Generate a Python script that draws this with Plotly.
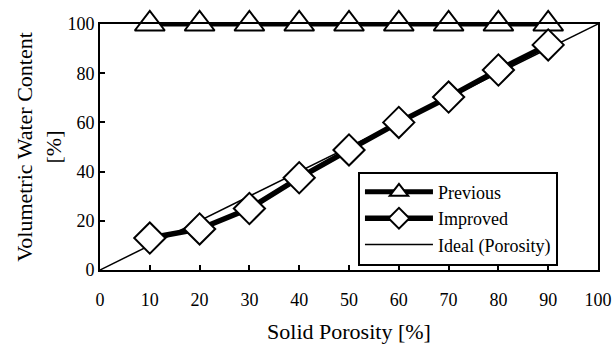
import plotly.graph_objects as go

porosity = [10, 20, 30, 40, 50, 60, 70, 80, 90]
previous = [100, 100, 100, 100, 100, 100, 100, 100, 100]
improved = [13, 16.7, 25, 37.5, 48.8, 60, 70.3, 81.3, 91.5]
ideal_x = [0, 100]
ideal_y = [0, 100]
ticks = [0, 10, 20, 30, 40, 50, 60, 70, 80, 90, 100]
yticks = [0, 20, 40, 60, 80, 100]

font = "Liberation Serif, Times New Roman, serif"

fig = go.Figure()
fig.add_trace(go.Scatter(x=ideal_x, y=ideal_y, name="Ideal (Porosity)", mode="lines",
                         line=dict(color="black", width=1.5), legendrank=3))
fig.add_trace(go.Scatter(x=porosity, y=previous, name="Previous", mode="lines+markers",
                         line=dict(color="black", width=5),
                         marker=dict(symbol="triangle-up", size=26, color="white",
                                     line=dict(color="black", width=2)),
                         cliponaxis=False, legendrank=1))
fig.add_trace(go.Scatter(x=porosity, y=improved, name="Improved", mode="lines+markers",
                         line=dict(color="black", width=5.5),
                         marker=dict(symbol="diamond", size=24, color="white",
                                     line=dict(color="black", width=2)),
                         cliponaxis=False, legendrank=2))

fig.update_layout(
    width=614, height=346,
    margin=dict(l=100, r=16, t=24, b=76),
    paper_bgcolor="white", plot_bgcolor="white",
    font=dict(family=font, size=18, color="black"),
    showlegend=True,
    legend=dict(x=0.518, y=0.40, xanchor="left", yanchor="top",
                bordercolor="black", borderwidth=2, bgcolor="white",
                font=dict(size=18), traceorder="normal", itemwidth=68,
                tracegroupgap=0),
    xaxis=dict(range=[0, 100], tickvals=ticks, showline=True, linecolor="black",
               linewidth=2, mirror=True, ticks="inside", ticklen=5, tickwidth=1.5,
               tickcolor="black", showgrid=False, zeroline=False, automargin=False,
               ticklabelstandoff=12,
               title=dict(text="Solid Porosity [%]", standoff=15)),
    yaxis=dict(range=[0, 100], tickvals=yticks, showline=True, linecolor="black",
               linewidth=2, mirror=True, ticks="inside", ticklen=5, tickwidth=1.5,
               tickcolor="black", showgrid=False, zeroline=False, automargin=False,
               title=dict(text="Volumetric Water Content<br>[%]", standoff=0)),
)

fig.write_html("out.html", config={"displayModeBar": False},
               post_script="document.body.style.margin='0px';")
